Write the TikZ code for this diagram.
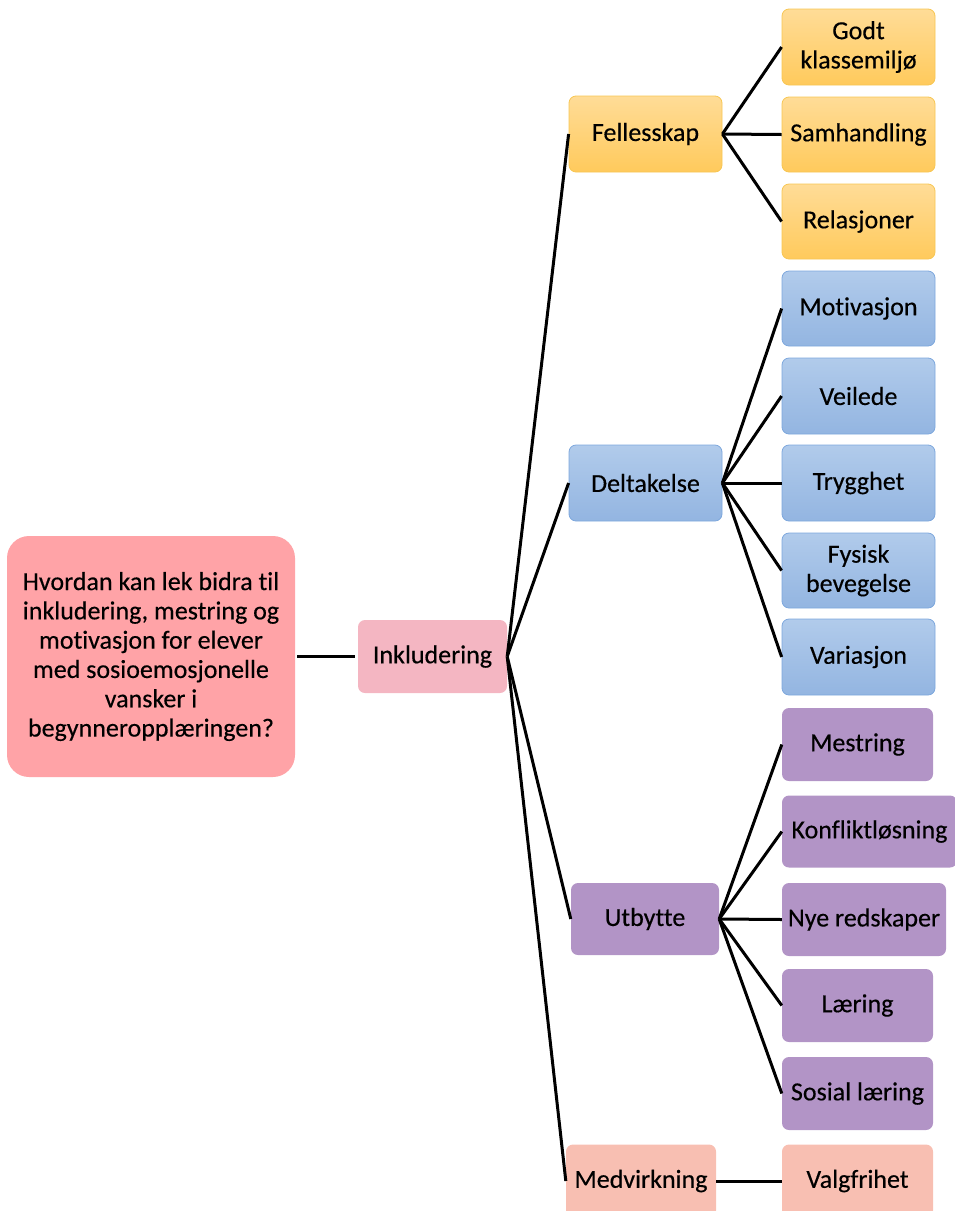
\documentclass[tikz,border=0pt]{standalone}
\usepackage{fontspec}
\setmainfont{Carlito}[Ligatures={NoCommon}, RawFeature={-liga;-clig}, FakeBold=0.35]
\definecolor{rootfill}{HTML}{FFA3A7}
\definecolor{inkfill}{HTML}{F4B6C2}
\definecolor{yeltop}{HTML}{FFDC97}
\definecolor{yelbot}{HTML}{FFCA5C}
\definecolor{yelline}{HTML}{F7C653}
\definecolor{bluetop}{HTML}{B1CBEB}
\definecolor{bluebot}{HTML}{93B5E1}
\definecolor{blueline}{HTML}{7DA7DD}
\definecolor{purfill}{HTML}{B294C6}
\definecolor{salfill}{HTML}{F8BFB2}
\newcommand{\fs}{\fontsize{26pt}{29.3pt}\selectfont}
\tikzset{
  box/.style={rectangle, rounded corners=7pt, inner sep=0pt, align=center, font=\fs, text=black},
  yelbox/.style={box, top color=yeltop, bottom color=yelbot, draw=yelline, line width=0.8pt},
  bluebox/.style={box, top color=bluetop, bottom color=bluebot, draw=blueline, line width=0.8pt},
  purbox/.style={box, fill=purfill},
  salbox/.style={box, fill=salfill},
  link/.style={line width=3pt, black}
}
\begin{document}
\begin{tikzpicture}[x=1pt,y=-1pt]
\clip (0,0) rectangle (955,1211);
\useasboundingbox (0,0) rectangle (955,1211);
% root and level 1
\node[box, fill=rootfill, rounded corners=22pt, minimum width=288pt, minimum height=241pt] (root) at (151,656.5)
  {Hvordan kan lek bidra til\\inkludering, mestring og\\motivasjon for elever\\med sosioemosjonelle\\vansker i\\begynneropplæringen?};
\node[box, fill=inkfill, minimum width=149pt, minimum height=73pt] (ink) at (432.5,656.5) {Inkludering};
% level 2
\node[yelbox, minimum width=153pt, minimum height=76pt] (fell) at (645.5,134) {Fellesskap};
\node[bluebox, minimum width=153pt, minimum height=76pt] (delt) at (645.5,483) {Deltakelse};
\node[purbox, minimum width=148pt, minimum height=72pt] (utby) at (645,919) {Utbytte};
\node[salbox, minimum width=150pt, minimum height=73pt] (medv) at (641,1181) {Medvirkning};
% level 3 yellow
\node[yelbox, minimum width=153pt, minimum height=76pt] (godt) at (858.5,47) {Godt\\klassemiljø};
\node[yelbox, minimum width=153pt, minimum height=75pt] (samh) at (858.5,134.5) {Samhandling};
\node[yelbox, minimum width=153pt, minimum height=75pt] (rela) at (858.5,221.5) {Relasjoner};
% level 3 blue
\node[bluebox, minimum width=153pt, minimum height=75pt] (moti) at (858.5,308.5) {Motivasjon};
\node[bluebox, minimum width=153pt, minimum height=76pt] (veil) at (858.5,396) {Veilede};
\node[bluebox, minimum width=153pt, minimum height=76pt] (tryg) at (858.5,483) {Trygghet};
\node[bluebox, minimum width=153pt, minimum height=75pt] (fysi) at (858.5,570.5) {Fysisk\\bevegelse};
\node[bluebox, minimum width=153pt, minimum height=76pt] (vari) at (858.5,657) {Variasjon};
% level 3 purple
\node[purbox, minimum width=151pt, minimum height=73pt] (mest) at (857.5,744.5) {Mestring};
\node[purbox, minimum width=175pt, minimum height=72pt] (konf) at (869.5,831.5) {Konfliktløsning};
\node[purbox, minimum width=164pt, minimum height=73pt] (nye) at (864,919.5) {Nye redskaper};
\node[purbox, minimum width=151pt, minimum height=73pt] (laer) at (857.5,1005.5) {Læring};
\node[purbox, minimum width=151pt, minimum height=73pt] (sosi) at (857.5,1093.5) {Sosial læring};
% level 3 salmon
\node[salbox, minimum width=151pt, minimum height=73pt] (valg) at (857.5,1181) {Valgfrihet};
% connectors
\draw[link] ([xshift=2pt]root.east) -- ([xshift=-3pt]ink.west);
\foreach \c in {fell,delt,utby,medv} \draw[link] (ink.east) -- (\c.west);
\foreach \c in {godt,samh,rela} \draw[link] (fell.east) -- (\c.west);
\foreach \c in {moti,veil,tryg,fysi,vari} \draw[link] (delt.east) -- (\c.west);
\foreach \c in {mest,konf,nye,laer,sosi} \draw[link] (utby.east) -- (\c.west);
\draw[link] (medv.east) -- (valg.west);
\end{tikzpicture}
\end{document}
